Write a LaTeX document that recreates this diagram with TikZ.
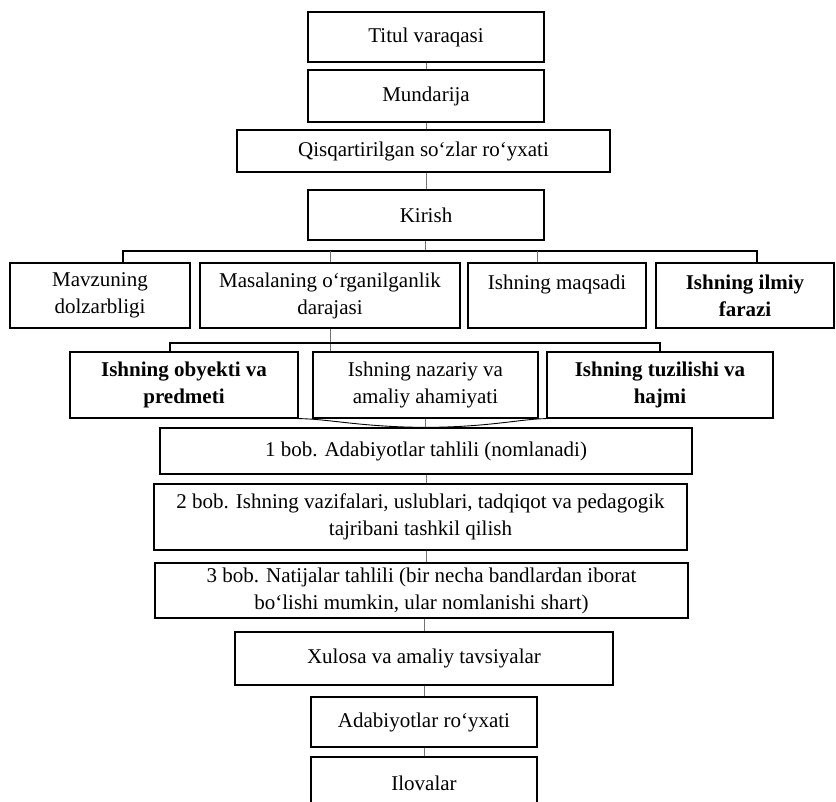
\documentclass[tikz,border=0pt]{standalone}
\usepackage{fontspec}
\setmainfont{Liberation Serif}
\begin{document}
\begin{tikzpicture}[x=1pt,y=-1pt,
 box/.style={draw, line width=1.2pt, inner sep=0pt, align=center, font=\fontsize{21}{27}\selectfont},
 tick/.style={line width=0.7pt, draw=black!55},
 bus/.style={line width=1.2pt}]
\useasboundingbox (0,0) rectangle (836,802);
\clip (0,0) rectangle (836,802);
% column
\node[box, minimum width=236pt, minimum height=50pt] (titul) at (426,37) {Titul varaqasi};
\node[box, minimum width=236pt, minimum height=52pt] (mund) at (426,96) {Mundarija};
\node[box, minimum width=373pt, minimum height=42pt] (qisq) at (423.5,151) {Qisqartirilgan so‘zlar ro‘yxati};
\node[box, minimum width=236pt, minimum height=50pt] (kir) at (426,215) {Kirish};
% row 2
\node[box, minimum width=180pt, minimum height=65pt] (mavz) at (100,295.5) {Mavzuning\\dolzarbligi};
\node[box, minimum width=260pt, minimum height=65pt] (masal) at (330,295.5) {Masalaning o‘rganilganlik\\darajasi};
\node[box, minimum width=178pt, minimum height=65pt] (maqs) at (557,295.5) {Ishning maqsadi\\\mbox{}};
\node[box, minimum width=178pt, minimum height=65pt] (faraz) at (745,295.5) {\bfseries Ishning ilmiy\\\bfseries farazi};
% row 3
\node[box, minimum width=228pt, minimum height=66pt] (obj) at (184,385) {\bfseries Ishning obyekti va\\\bfseries predmeti};
\node[box, minimum width=225pt, minimum height=66pt] (naz) at (425.5,385) {Ishning nazariy va\\amaliy ahamiyati};
\node[box, minimum width=226pt, minimum height=66pt] (tuz) at (660,385) {\bfseries Ishning tuzilishi va\\\bfseries hajmi};
% chapters
\node[box, minimum width=532pt, minimum height=46pt] (bob1) at (426,451) {1 bob. Adabiyotlar tahlili (nomlanadi)};
\node[box, minimum width=533pt, minimum height=66pt] (bob2) at (420.5,517) {2 bob. Ishning vazifalari, uslublari, tadqiqot va pedagogik\\tajribani tashkil qilish};
\node[box, minimum width=533pt, minimum height=55pt] (bob3) at (421.5,590.5) {3 bob. Natijalar tahlili (bir necha bandlardan iborat\\bo‘lishi mumkin, ular nomlanishi shart)};
\node[box, minimum width=378pt, minimum height=53pt] (xul) at (424,658.5) {Xulosa va amaliy tavsiyalar};
\node[box, minimum width=226pt, minimum height=50pt] (adab) at (424,722) {Adabiyotlar ro‘yxati};
\node[box, minimum width=226pt, minimum height=52pt] (ilov) at (424,783) {Ilovalar};
% connectors between column boxes
\draw[tick] (titul.south) -- (titul.south |- mund.north);
\draw[tick] (mund.south) -- (mund.south |- qisq.north);
\draw[tick] (qisq.south -| kir.south) -- (kir.north);
% Kirish to row 2
\coordinate (kb) at (425,251);
\coordinate (d1) at (123,251);
\coordinate (d2) at (330,251);
\coordinate (d3) at (537,251);
\coordinate (d4) at (757,251);
\draw[tick] (kir.south -| kb) -- (kb);
\draw[bus] (d1 |- mavz.north) -- (d1) -- (d4) -- (d4 |- faraz.north);
\draw[tick] (d2) -- (d2 |- masal.north);
\draw[tick] (d3) -- (d3 |- maqs.north);
% row 2 to row 3
\coordinate (e0) at (330,343);
\coordinate (e1) at (170,343);
\coordinate (e3) at (660,343);
\draw[tick] (masal.south -| e0) -- (e0 |- naz.north);
\draw[bus] (e1 |- obj.north) -- (e1) -- (e3) -- (e3 |- tuz.north);
% row 3 to chapter 1
\draw[line width=0.9pt] (obj.south east) .. controls (330,419) and (360,427) .. (bob1.north);
\draw[line width=0.9pt] (tuz.south west) .. controls (520,419) and (490,427) .. (bob1.north);
\draw[tick] (naz.south) -- (naz.south |- bob1.north);
% chapters downwards
\draw[tick] (bob1.south) -- (bob1.south |- bob2.north);
\draw[tick] (bob2.south -| bob1.south) -- (bob1.south |- bob3.north);
\draw[tick] (bob3.south -| xul.north) -- (xul.north);
\draw[tick] (xul.south) -- (adab.north);
\draw[tick] (adab.south) -- (ilov.north);
\end{tikzpicture}
\end{document}
